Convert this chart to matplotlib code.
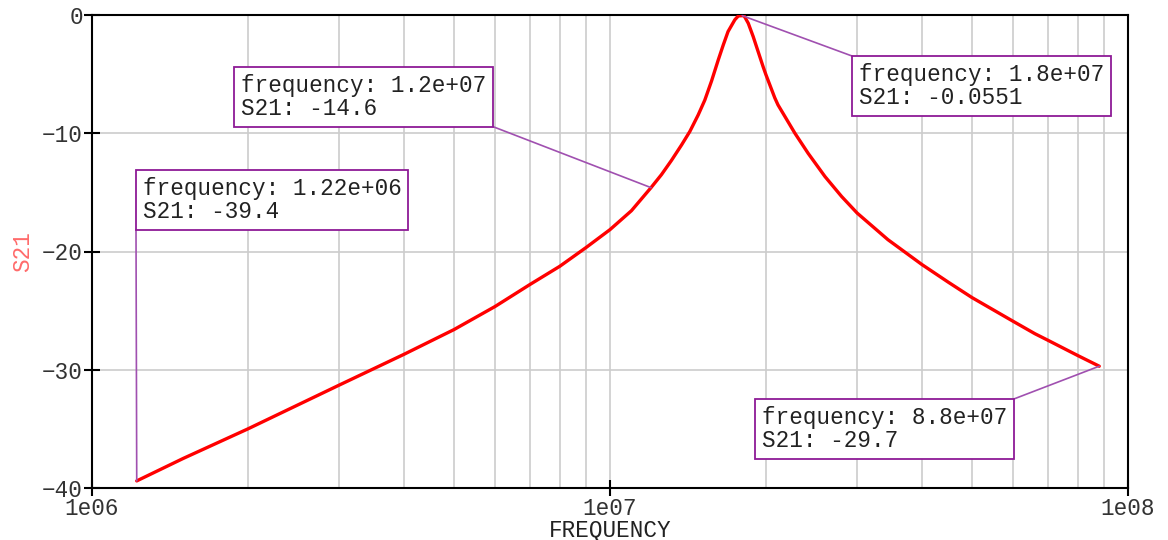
import matplotlib
matplotlib.use("Agg")
import matplotlib.pyplot as plt
from matplotlib.ticker import FixedLocator, NullFormatter, LogLocator

# ---- data ----
freq = [1.22e6, 1.5e6, 2e6, 3e6, 4e6, 5e6, 6e6, 7e6, 8e6, 9e6, 1.0e7, 1.1e7, 1.2e7,
        1.257e7, 1.314e7, 1.374e7, 1.426e7, 1.48e7, 1.524e7, 1.57e7, 1.618e7, 1.654e7,
        1.69e7, 1.742e7, 1.769e7, 1.8e7, 1.816e7, 1.849e7, 1.89e7, 1.932e7, 1.976e7,
        2.0e7, 2.08e7, 2.11e7, 2.275e7, 2.413e7, 2.6e7, 2.8e7, 3e7, 3.44e7, 4e7, 4.5e7,
        5e7, 6e7, 6.61e7, 7e7, 8e7, 8.8e7]
s21 = [-39.4, -37.5, -35.0, -31.3, -28.7, -26.6, -24.65, -22.8, -21.25, -19.65, -18.15, -16.55, -14.6,
       -13.5, -12.3, -11.0, -9.85, -8.45, -7.2, -5.6, -3.8, -2.55,
       -1.4, -0.4, -0.08, -0.0551, -0.08, -0.7, -1.83, -3.1, -4.4,
       -5.05, -7.0, -7.6, -10.0, -11.7, -13.66, -15.35, -16.75, -19.0, -21.1, -22.6,
       -23.9, -25.9, -26.95, -27.5, -28.8, -29.7]

ann_freq = [1.22e6, 1.2e7, 1.8e7, 8.8e7]
ann_s21 = [-39.4, -14.6, -0.0551, -29.7]
ann_text = ["frequency: 1.22e+06\nS21: -39.4",
            "frequency: 1.2e+07\nS21: -14.6",
            "frequency: 1.8e+07\nS21: -0.0551",
            "frequency: 8.8e+07\nS21: -29.7"]

xticks = [1e6, 1e7, 1e8]
xtick_labels = ["1e06", "1e07", "1e08"]
yticks = [0, -10, -20, -30, -40]
ytick_labels = ["0", "\u221210", "\u221220", "\u221230", "\u221240"]

# ---- figure ----
W, H = 1168, 540
fig = plt.figure(figsize=(W / 100, H / 100), dpi=100)
ax = fig.add_axes([92 / W, 1 - 488 / H, (1128 - 92) / W, (488 - 15) / H])

FONT = "Liberation Mono"
FS = 16.3

ax.set_xscale("log")
ax.set_xlim(1e6, 1e8)
ax.set_ylim(-40, 0)

ax.plot(freq, s21, color="#ff0000", lw=2.4, solid_joinstyle="round",
        solid_capstyle="round", zorder=3)

ax.xaxis.set_major_locator(FixedLocator(xticks))
ax.set_xticklabels(xtick_labels)
ax.xaxis.set_minor_locator(LogLocator(base=10, subs=range(2, 10)))
ax.xaxis.set_minor_formatter(NullFormatter())
ax.set_yticks(yticks)
ax.set_yticklabels(ytick_labels)

ax.grid(True, which="both", axis="x", color="#cccccc", lw=1.2)
ax.grid(True, which="major", axis="y", color="#cccccc", lw=1.2)
ax.set_axisbelow(True)

ax.tick_params(which="major", direction="inout", length=11, width=1.5,
               labelsize=FS, labelcolor="#333333", color="black", pad=1)
ax.tick_params(which="minor", length=0)
for lab in ax.get_xticklabels() + ax.get_yticklabels():
    lab.set_family(FONT)
for sp in ax.spines.values():
    sp.set_linewidth(1.5)
    sp.set_color("black")

ax.set_xlabel("FREQUENCY", family=FONT, fontsize=FS, color="#222222", labelpad=-1)
ax.set_ylabel("S21", family=FONT, fontsize=FS, color="#ff6b6b", labelpad=6)

# annotation boxes: top-left corner of box in figure pixels (from top), connector corner
box_tl = [(136, 170), (234, 67), (852, 56), (755, 399)]
corner = [(0, 0), (1, 0), (0, 1), (1, 1)]
pad_px = 0.3 * FS * 100 / 72
anns = []
for t, (bx, by) in zip(ann_text, box_tl):
    a = fig.text((bx + pad_px) / W, (H - by - pad_px) / H, t,
                 ha="left", va="top", family=FONT, fontsize=FS, color="#222222",
                 linespacing=1.0,
                 bbox=dict(boxstyle="square,pad=0.3", fc="white", ec="#8e1a96", lw=1.3),
                 zorder=5)
    anns.append(a)

fig.canvas.draw()
renderer = fig.canvas.get_renderer()
for a, f, v, (cx, cy) in zip(anns, ann_freq, ann_s21, corner):
    ext = a.get_bbox_patch().get_window_extent(renderer)
    px = ext.x0 + cx * ext.width
    py = ext.y0 + cy * ext.height
    ax.annotate("", xy=(f, v), xycoords="data", xytext=(px, py),
                textcoords="figure pixels",
                arrowprops=dict(arrowstyle="-", color="#a050b0", lw=1.2,
                                shrinkA=0, shrinkB=0),
                zorder=4, annotation_clip=False)

fig.savefig("out.png", dpi=100)
